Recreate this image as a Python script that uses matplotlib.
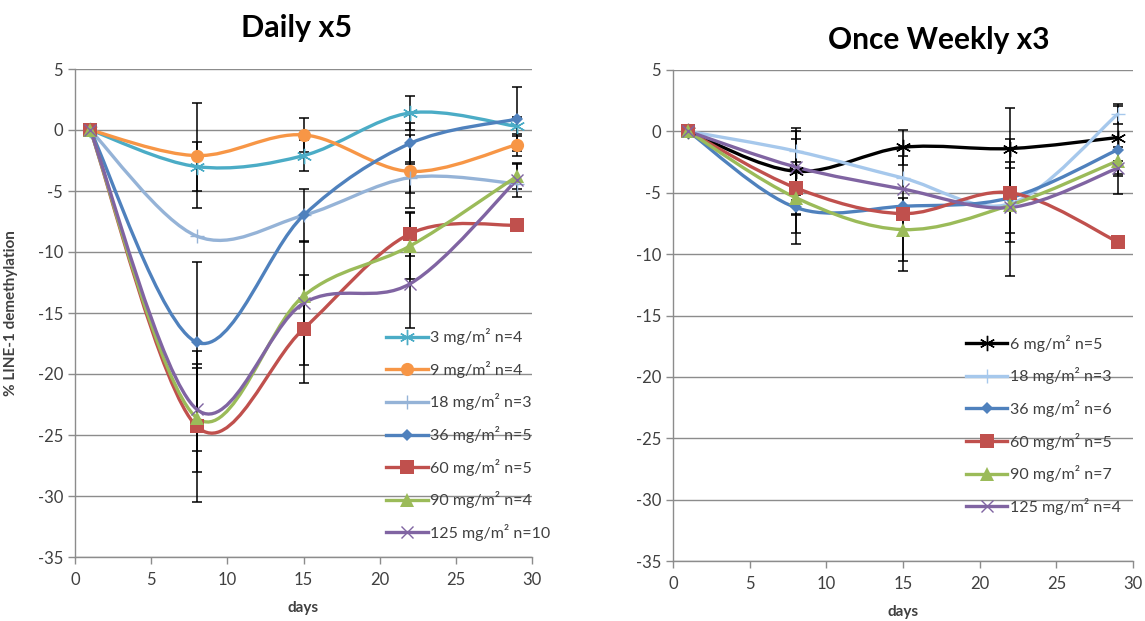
"""
LINE-1 demethylation over time: daily x5 vs once weekly x3 dosing.
Two panels, smoothed lines (Excel style) with black error bars.
"""

import numpy as np
import matplotlib
matplotlib.use("Agg")
import matplotlib.pyplot as plt
from matplotlib.path import Path
from matplotlib.patches import PathPatch
from matplotlib.lines import Line2D

plt.rcParams['font.family'] = ['Lato', 'DejaVu Sans']
plt.rcParams['axes.unicode_minus'] = False

# ---------------------------------------------------------------------------
# Data
# ---------------------------------------------------------------------------
days = [1, 8, 15, 22, 29]

# Daily x5
daily_labels = ['3 mg/m² n=4', '9 mg/m² n=4', '18 mg/m² n=3', '36 mg/m² n=5',
                '60 mg/m² n=5', '90 mg/m² n=4', '125 mg/m² n=10']
daily_3 = [0, -3.0, -2.1, 1.4, 0.3]
daily_9 = [0, -2.1, -0.4, -3.4, -1.2]
daily_18 = [0, -8.7, -7.0, -3.9, -4.4]
daily_36 = [0, -17.4, -7.0, -1.1, 0.9]
daily_60 = [0, -24.3, -16.3, -8.5, -7.8]
daily_90 = [0, -23.6, -13.6, -9.5, -3.8]
daily_125 = [0, -22.9, -14.2, -12.6, -4.1]

daily_3_err = [0, 2.0, 1.3, 1.4, 0.8]
daily_9_err = [0, 4.3, 1.4, 3.0, 0.9]
daily_18_err = [0, 0, 0, 1.3, 0]
daily_36_err = [0, 6.6, 2.2, 1.7, 2.6]
daily_60_err = [0, 6.2, 4.4, 1.8, 0]
daily_90_err = [0, 4.4, 0, 2.7, 1.0]
daily_125_err = [0, 3.4, 5.1, 3.6, 1.4]

# Once weekly x3
weekly_labels = ['6 mg/m² n=5', '18 mg/m² n=3', '36 mg/m² n=6',
                 '60 mg/m² n=5', '90 mg/m² n=7', '125 mg/m² n=4']
weekly_6 = [0, -3.25, -1.3, -1.4, -0.5]
weekly_18 = [0, -1.6, -3.8, -5.9, 1.4]
weekly_36 = [0, -6.2, -6.1, -5.4, -1.5]
weekly_60 = [0, -4.6, -6.7, -5.0, -9.0]
weekly_90 = [0, -5.4, -8.0, -6.0, -2.4]
weekly_125 = [0, -2.9, -4.7, -6.2, -3.0]

weekly_6_err = [0, 3.5, 1.4, 3.3, 0]
weekly_18_err = [0, 0, 0, 0, 0.8]
weekly_36_err = [0, 0.6, 0, 2.9, 3.6]
weekly_60_err = [0, 4.6, 4.7, 0, 0]
weekly_90_err = [0, 2.9, 2.6, 3.0, 1.1]
weekly_125_err = [0, 2.3, 0, 5.6, 0.6]

# ---------------------------------------------------------------------------
# Styles
# ---------------------------------------------------------------------------
ASTER = (6, 2, 0)
daily_styles = [
    dict(color='#4BACC6', marker=ASTER, ms=11, mew=1.0),
    dict(color='#F79646', marker='o', ms=9.5, mew=0),
    dict(color='#95B3D7', marker='+', ms=10, mew=1.0),
    dict(color='#4F81BD', marker='D', ms=6.5, mew=0),
    dict(color='#C0504D', marker='s', ms=9.5, mew=0),
    dict(color='#9BBB59', marker='^', ms=9.5, mew=0),
    dict(color='#8064A2', marker='x', ms=8.5, mew=1.0),
]
weekly_styles = [
    dict(color='#000000', marker=ASTER, ms=11, mew=1.0),
    dict(color='#A6C8EC', marker='+', ms=10, mew=1.0),
    dict(color='#4F81BD', marker='D', ms=6.5, mew=0),
    dict(color='#C0504D', marker='s', ms=9.5, mew=0),
    dict(color='#9BBB59', marker='^', ms=9.5, mew=0),
    dict(color='#8064A2', marker='x', ms=8.5, mew=1.0),
]
GRID = '#8C8C8C'
TXT = '#404040'
LW = 2.4


def smooth_path(x, y):
    # Catmull-Rom style Bezier through the data points (like Excel "smoothed line")
    pts = np.column_stack([x, y]).astype(float)
    n = len(pts)
    verts = [pts[0]]
    codes = [Path.MOVETO]
    for i in range(n - 1):
        p0 = pts[max(i - 1, 0)]
        p1 = pts[i]
        p2 = pts[i + 1]
        p3 = pts[min(i + 2, n - 1)]
        verts += [p1 + (p2 - p0) / 6.0, p2 - (p3 - p1) / 6.0, p2]
        codes += [Path.CURVE4] * 3
    return Path(verts, codes)


def draw_panel(ax, series, errs, labels, styles, legend_anchor):
    for vals, err, st in zip(series, errs, styles):
        x = np.array(days)
        y = np.array(vals)
        e = np.array(err)
        keep = e > 0
        if keep.any():
            ax.errorbar(x[keep], y[keep], yerr=e[keep], fmt='none', ecolor='black',
                        elinewidth=1.1, capsize=3.5, capthick=1.1, zorder=2)
    handles = []
    for vals, st, lab in zip(series, styles, labels):
        patch = PathPatch(smooth_path(days, vals), fc='none', ec=st['color'],
                          lw=LW, zorder=3, capstyle='round', joinstyle='round')
        ax.add_patch(patch)
        ax.plot(days, vals, ls='none', marker=st['marker'], ms=st['ms'],
                color=st['color'], mec=st['color'], mew=st['mew'], zorder=4)
        handles.append(Line2D([], [], color=st['color'], lw=LW, marker=st['marker'],
                              ms=st['ms'], mew=st['mew'], mec=st['color']))

    ax.set_xlim(0, 30)
    ax.set_ylim(-35, 5)
    ax.set_xticks(range(0, 31, 5))
    ax.set_yticks(range(-35, 6, 5))
    ax.grid(axis='y', color=GRID, lw=1.0)
    ax.set_axisbelow(True)
    for side in ('top', 'right'):
        ax.spines[side].set_visible(False)
    for side in ('left', 'bottom'):
        ax.spines[side].set_color(GRID)
        ax.spines[side].set_linewidth(1.0)
    ax.tick_params(colors=GRID, labelcolor=TXT, labelsize=12, length=5, width=1.0)
    ax.tick_params(axis='x', pad=6)
    ax.set_xlabel('days', fontsize=11, fontweight='bold', color=TXT, labelpad=9)

    leg = ax.legend(handles, labels, loc='upper left', bbox_to_anchor=legend_anchor,
                    frameon=False, fontsize=11.5, labelspacing=0.98, handlelength=2.6,
                    handletextpad=0.15, borderaxespad=0)
    for t in leg.get_texts():
        t.set_color(TXT)


fig = plt.figure(figsize=(11.45, 6.21), dpi=100)
ax1 = fig.add_axes([75 / 1145, 1 - 557 / 621, 457 / 1145, 488 / 621])
ax2 = fig.add_axes([673 / 1145, 1 - 561 / 621, 460 / 1145, 491 / 621])

draw_panel(ax1,
           [daily_3, daily_9, daily_18, daily_36, daily_60, daily_90, daily_125],
           [daily_3_err, daily_9_err, daily_18_err, daily_36_err, daily_60_err,
            daily_90_err, daily_125_err],
           daily_labels, daily_styles, (0.667, 0.482))
draw_panel(ax2,
           [weekly_6, weekly_18, weekly_36, weekly_60, weekly_90, weekly_125],
           [weekly_6_err, weekly_18_err, weekly_36_err, weekly_60_err,
            weekly_90_err, weekly_125_err],
           weekly_labels, weekly_styles, (0.623, 0.474))

ax1.set_ylabel('% LINE-1 demethylation', fontsize=11, fontweight='bold', color=TXT)
ax1.yaxis.set_label_coords(-0.125, 0.5)

fig.text(297 / 1145, 1 - 28 / 621, 'Daily x5', ha='center', va='center',
         fontsize=22, fontweight='bold', color='black')
fig.text(939 / 1145, 1 - 40 / 621, 'Once Weekly x3', ha='center', va='center',
         fontsize=21.5, fontweight='bold', color='black')

fig.savefig('out.png', dpi=100, facecolor='white')
